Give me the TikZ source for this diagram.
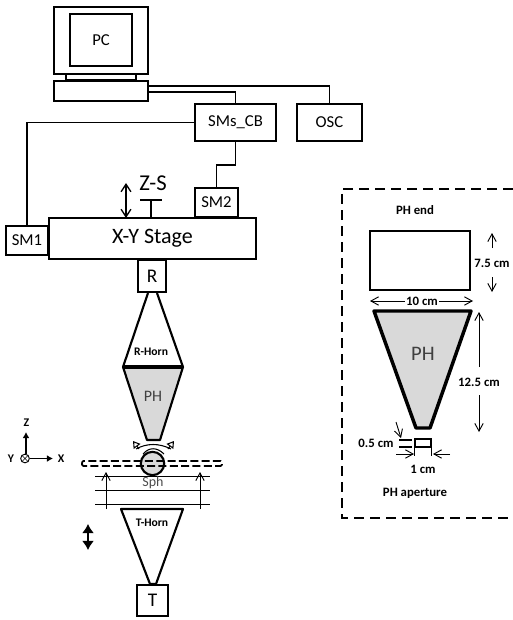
\documentclass[tikz,border=0pt]{standalone}
\usepackage{fontspec}
\setmainfont{Carlito}
\usepackage{xcolor}
\usetikzlibrary{arrows.meta,positioning}
\definecolor{phgray}{HTML}{D9D9D9}

\begin{document}
\begin{tikzpicture}[x=0.75pt, y=-0.75pt, every node/.style={font=\fontsize{12.5}{15}\selectfont, inner sep=0pt}, box/.style 2 args={draw, line width=1.5pt, minimum width=#1*0.75pt, minimum height=#2*0.75pt}, wire/.style={line width=1pt}, dim/.style={-{Straight Barb[length=2mm,width=2.2mm]}, line width=0.7pt}, dimlabel/.style={font=\fontsize{9.6}{11}\bfseries\selectfont}, hornlabel/.style={font=\fontsize{8.7}{10}\bfseries\selectfont}, axislabel/.style={font=\fontsize{8.8}{10}\bfseries\selectfont}, horn/.style={line width=1.6pt, line join=round}, tilt/.style={-{Triangle[open,length=1.8mm,width=2.2mm]}, line width=0.8pt}]
\useasboundingbox (0,0) rectangle (513,620);
% computer and instruments
\node[box={94}{67}] (monitor) at (101,40.5) {};
\node[box={62}{52}, line width=1.9pt] (screen) at (101,40) {PC};
\node[box={70}{6}, line width=1pt] (neck) at (101,77) {};
\node[box={94}{20}, line width=1.8pt] (keyboard) at (101,91) {};
\node[box={81}{37}] (smscb) at (235.5,122.5) {SMs\_CB};
\node[box={65}{37}] (osc) at (329.5,122.5) {OSC};
% stage and motors
\node[box={207}{41}] (stage) at (152.5,238.5) {\fontsize{16.5}{18}\selectfont X-Y Stage};
\node[box={42}{29}] (smone) at (27,240.5) {SM1};
\node[box={43}{29}] (smtwo) at (216.5,202.5) {SM2};
\node[box={28}{32}] (rx) at (152,276) {\fontsize{14.5}{16}\selectfont R};
\node[font=\fontsize{17}{19}\selectfont] (zs) at (153,183) {Z-S};
\coordinate (zsfoot) at (151,218);
\coordinate (zsbar) at (151,200);
\coordinate (zstop) at (126,183);
\coordinate (zsbot) at (126,218);
\draw[wire] ([yshift=3.75pt]keyboard.east) -| (osc.north);
\draw[wire] ([yshift=-0.75pt]keyboard.east) -| (smscb.north);
\draw[wire] (smscb.west) -| (smone.north);
\draw[wire] (smscb.south) -- ++(0,23) -| (smtwo.north);
\draw[wire] (zsfoot) -- (zsbar) ++(-11,0) -- ++(22,0);
\draw[{Straight Barb[length=2mm,width=2.6mm]}-{Straight Barb[length=2mm,width=2.6mm]}, line width=1pt] (zstop) -- (zsbot);
% horns
\draw[horn] (148,293) -- (123,367) -- (183,367) -- (157,293);
\draw[horn, fill=phgray] (123,367) -- (183,367) -- (160,440) -- (147,440) -- cycle;
\draw[line width=2.6pt] (123,367) -- (183,367);
\node[hornlabel] (rhorn) at (151,352) {R-Horn};
\node[font=\fontsize{12}{14}\selectfont, text=black!75] (ph) at (153,396) {PH};
\draw[horn] (121,509) -- (183,509) -- (156,584) -- (150,584) -- cycle;
\node[hornlabel] (thorn) at (152,523) {T-Horn};
\node[box={31}{31}] (tx) at (152.5,600) {\fontsize{14.5}{16}\selectfont T};
% sphere, sample plane and rulers
\node[draw, circle, line width=1.6pt, fill=phgray, minimum size=17.5pt] (sph) at (152.5,463.5) {};
\draw[line width=0.8pt] (136,449) .. controls (147,443) and (159,443) .. (171,449);
\draw[line width=0.8pt] (143,454) .. controls (149,447) and (157,447) .. (164,454);
\draw[tilt] (139,449) -- (133,441);
\draw[tilt] (168,449) -- (174,441);
\draw[dash pattern=on 6pt off 2.5pt, line width=1.4pt, rounded corners=1pt] (82,461) rectangle (222,466);
\foreach \ly in {476,490,504} \draw[line width=0.7pt] (95,\ly) -- (210,\ly);
\draw[dim] (106,509) -- (106,472);
\draw[dim] (200,509) -- (200,472);
\node[font=\fontsize{10.5}{12}\selectfont, text=black!70] (sphlabel) at (153,482.5) {Sph};
\draw[{Latex[length=2.4mm,width=3.2mm]}-{Latex[length=2.4mm,width=3.2mm]}, line width=2pt] (88,524) -- (88,550);
% axes
\node[draw, circle, line width=0.7pt, minimum size=6.5pt] (yaxis) at (25,458.5) {};
\draw[line width=0.5pt] (yaxis.north west) -- (yaxis.south east) (yaxis.north east) -- (yaxis.south west);
\node[axislabel] (zlabel) at (26.5,423) {Z};
\node[axislabel] (ylabel) at (11,458.5) {Y};
\node[axislabel] (xlabel) at (61,458.5) {X};
\draw[-{Latex[length=1.6mm,width=1.8mm]}, line width=0.8pt] (yaxis.north) ++(1,0) -- (26,432);
\draw[-{Latex[length=1.6mm,width=1.8mm]}, line width=0.8pt] (yaxis.east) -- (53,458.5);
% inset with the pinhole dimensions
\draw[dash pattern=on 7.5pt off 4.5pt, line width=1.5pt] (513,189) -- (342,189) -- (342,518) -- (513,518);
\node[dimlabel] (phend) at (415,210) {PH end};
\node[box={100}{59}] (phrect) at (420,260.5) {};
\node[dimlabel] (hlabel) at (492,263) {7.5 cm};
\draw[dim] (492,248) -- (492,233);
\draw[dim] (492,277) -- (492,292);
\node[dimlabel] (wlabel) at (422,301) {10 cm};
\draw[dim] (wlabel.west) ++(-1,0) -- (370,301);
\draw[dim] (wlabel.east) ++(1,0) -- (473,301);
\draw[line width=2.6pt, fill=phgray, line join=round] (374,311) -- (471,311) -- (430,428) -- (416,428) -- cycle;
\node[font=\fontsize{15.5}{18}\selectfont, text=black!75] (phbig) at (423,354) {PH};
\node[dimlabel] (llabel) at (479,382) {12.5 cm};
\draw[dim] (479,367) -- (479,312);
\draw[dim] (479,395) -- (479,432);
\node[draw, line width=1.3pt, minimum width=12pt, minimum height=6pt] (aperture) at (423,443) {};
\node[dimlabel] (alabel) at (376,443) {0.5 cm};
\draw[line width=0.8pt] (399,440) -- (412,440) (399,447) -- (412,447);
\draw[dim] (396,422) -- (401,438);
\draw[line width=0.8pt] (aperture.south west) -- ++(0,8) (aperture.south east) -- ++(0,8);
\draw[dim] (396,454) -- (414,454);
\draw[dim] (450,454) -- (433,454);
\node[dimlabel] (blabel) at (423,469) {1 cm};
\node[dimlabel] (phap) at (415,493) {PH aperture};
\end{tikzpicture}
\end{document}
